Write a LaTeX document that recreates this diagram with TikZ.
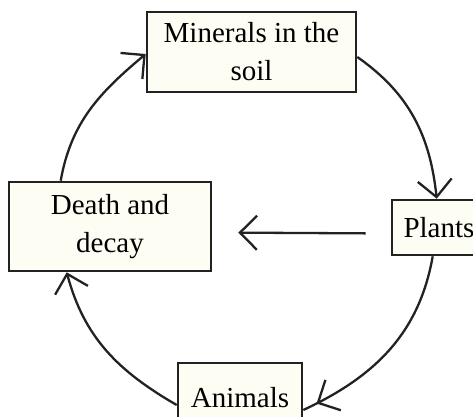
\documentclass[tikz,border=0pt]{standalone}
\usepackage{fontspec}
\setmainfont{Liberation Serif}
\usetikzlibrary{arrows.meta,decorations.markings}

\definecolor{boxfill}{HTML}{FDFDF3}
\definecolor{boxline}{HTML}{222222}

\tikzset{
    cyclebox/.style={draw=boxline, fill=boxfill, line width=2.6pt, align=center,
        font=\fontsize{29}{38}\selectfont, inner sep=0pt},
    cyclearrow/.style={draw=boxline, line width=2.3pt,
        -{Straight Barb[length=17pt,width=34pt,line width=2.3pt]}},
}

\begin{document}
\begin{tikzpicture}[x=1pt, y=1pt]

    % Page size
    \def\pagew{473}
    \def\pageh{416}
    \useasboundingbox (0, 0) rectangle (\pagew, \pageh);

    % Boxes
    \node[cyclebox, minimum width=209, minimum height=80] (minerals) at (251.5, 364) {Minerals in the\\soil};
    \node[cyclebox, minimum width=94, minimum height=55] (plants) at (439, 188.5) {Plants};
    \node[cyclebox, minimum width=202, minimum height=89] (death) at (110, 189.5) {Death and\\decay};
    \node[cyclebox, minimum width=124, minimum height=70] (animals) at (240, 18) {Animals};

    % Cycle arrows
    \draw[cyclearrow] ([xshift=53pt]death.north west) to[out=80, in=220] ([yshift=-2pt]minerals.west);
    \draw[cyclearrow] ([yshift=-5pt]minerals.east) to[out=-35, in=96] ([xshift=46pt]plants.north west);
    \draw[draw=boxline, line width=2.3pt, postaction={decorate},
        decoration={markings, mark=at position 0.93 with {\arrow{Straight Barb[length=17pt,width=34pt,line width=2.3pt]}}}]
        ([xshift=42pt]plants.south west) to[out=-100, in=25] ([yshift=-12pt]animals.east);
    \draw[cyclearrow] ([yshift=-7pt]animals.west) to[out=150, in=-75] ([xshift=59pt]death.south west);

    % Straight arrow
    \draw[cyclearrow, shorten <=25pt, shorten >=26pt] ([yshift=-6pt]plants.west) -- ([yshift=-6pt]death.east);

\end{tikzpicture}
\end{document}
